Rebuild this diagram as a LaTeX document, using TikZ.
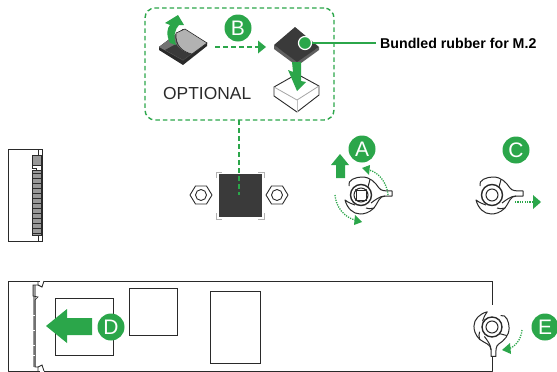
\documentclass[tikz,border=0pt]{standalone}
\usepackage{fontspec}
\setmainfont{Liberation Sans}
\usetikzlibrary{arrows.meta}
\definecolor{gr}{HTML}{2BA64A}
\definecolor{dk}{HTML}{3A3A3A}
\definecolor{ln}{HTML}{2A2A2A}
\tikzset{
  badge/.style={circle,fill=gr,text=white,minimum size=27pt,inner sep=0pt,font=\fontsize{21}{21}\selectfont},
  dash box/.style={draw=gr,line width=1.4pt,dash pattern=on 4.5pt off 3pt,rounded corners=10pt},
  dashline/.style={draw=gr,line width=1.4pt,dash pattern=on 4.5pt off 3.5pt},
  dotline/.style={draw=gr,line width=1.3pt,dash pattern=on 1.2pt off 1.2pt},
  outline/.style={draw=ln,line width=0.9pt},
  heavy/.style={draw=ln,line width=1pt},
  wingnut/.pic={
    \path[heavy,fill=white,line join=round] (-12,-9) .. controls (-14,-15) and (-5,-18) .. (1,-18)
      .. controls (9,-18) and (14,-13) .. (18,-7) .. controls (20,-4) and (24,-4) .. (31,-4)
      -- (31,1) -- (24,1) .. controls (18,1) and (17,8) .. (13,13)
      .. controls (8,18) and (3,19) .. (-1,19) .. controls (-8,19) and (-14,13) .. (-16,5)
      .. controls (-12,8) and (-9,9) .. (-6,10);
    \path[heavy] (9,-15.5) -- (7,-8) (13,13) .. controls (10,14) and (7,14) .. (5,13);
    \path[heavy] (24,1) .. controls (19,1) and (14,5) .. (10,8);
    \path[draw=ln,line width=1.4pt,fill=white] (0,0) circle (10.5);
  }
}
\begin{document}
\begin{tikzpicture}[x=1pt,y=-1pt]
\useasboundingbox (0,0) rectangle (557,372);
% optional box
\node[dash box,minimum width=189pt,minimum height=112pt,inner sep=0pt] (optbox) at (239.5,64) {};
% peeled pad
\fill[ln] (159,47) -- (183,29) -- (207,43) -- (207,46) -- (183,65) -- (159,50) -- cycle;
\fill[dk] (159,47) -- (183,29) -- (207,43) -- (183,61) -- cycle;
\fill[black!55] (159,47) -- (176,34) .. controls (174,44) and (180,50) .. (191,54) -- (183,60) -- cycle;
\fill[dk] (165,50) -- (176,44) .. controls (179,49) and (184,52) .. (191,54) -- (183,60) -- cycle;
\draw[draw=ln,line width=0.6pt,fill=black!30] (176,33) -- (185,29) -- (207,43) -- (192,54)
  .. controls (183,52) and (175,46) .. (176,33);
% green peel arrow
\fill[gr] (170,43) .. controls (166,35) and (167,28) .. (170,25) -- (165,23) -- (178,15) -- (184,25) -- (179,25)
  .. controls (175,29) and (173,36) .. (176,45) -- cycle;
% dark pad
\fill[ln!75] (274,45) -- (274,49) -- (297,66) -- (319,50) -- (319,47) -- (297,61) -- cycle;
\fill[dk] (274,45) -- (295,27) -- (319,47) -- (297,62) -- cycle;
% white block
\draw[outline,fill=white,line join=round] (274,87) -- (297,74) -- (319,86) -- (319,95) -- (297,112) -- (274,96) -- cycle;
\draw[draw=black!35,line width=0.8pt] (274,87) -- (297,100) -- (319,86);
\draw[draw=black!25,line width=0.8pt] (297,100) -- (297,112);
% green down arrow
\fill[gr] (292,62) -- (301,62) -- (301,81) -- (306,82) -- (297,91) -- (288,70) -- (293,72) -- cycle;
% leader
\node[circle,fill=gr,draw=white,line width=1.2pt,minimum size=13pt,inner sep=0pt] (dot) at (305,43) {};
\coordinate (leadEnd) at (376,43);
\draw[draw=gr,line width=1.8pt] (dot) -- (leadEnd);
\node[anchor=west,inner sep=0pt,font=\fontsize{14.2}{14}\selectfont\bfseries] (bund) at (380,43) {Bundled rubber for M.2};
\node[badge] (B) at (238,28) {B};
\node[anchor=west,inner sep=0pt,font=\fontsize{17.4}{17}\selectfont,text=ln] (opt) at (163,93.5) {OPTIONAL};
% B arrow
\coordinate (bs) at (215,47);
\coordinate (be) at (258,47);
\draw[dashline] (bs) -- (be);
\fill[gr] (258,40.5) -- (266,47) -- (258,53.5) -- cycle;
% left slot
\draw[outline] (8,149) rectangle (42,241);
\draw[outline] (38,149) -- (38,155) (38,241) -- (38,235);
\path[fill=black!40,draw=ln,line width=0.6pt] (32,155) -- (41.5,155) -- (41.5,165) -- (32,165) -- cycle;
\path[fill=white,draw=ln,line width=0.6pt] (32,165) -- (41.5,165) -- (41.5,170) -- (36,170) -- (36,168) -- (32,168) -- cycle;
\path[fill=black!40,draw=ln,line width=0.6pt] (32,170) rectangle (41.5,235);
\foreach \yy in {173,178,...,233}{
  \fill[white] (32,\yy) rectangle (41.5,\yy+1.4);
  \draw[draw=ln,line width=0.35pt] (32,\yy) -- (41.5,\yy);
}
% chip
\foreach \sx/\sy in {216/172,264/172,216/219,264/219}{
  \draw[black!30,line width=0.9pt] (\sx,{\sy+(\sy<200?6:-6)}) -- (\sx,\sy) -- ({\sx+(\sx<240?6:-6)},\sy);
}
\node[fill=dk,minimum size=43pt,inner sep=0pt] (chip) at (240,195.5) {};
\foreach \cx in {201,277}{
  \draw[outline,line join=round] (\cx-11,195) -- (\cx-5.5,186) -- (\cx+5.5,186) -- (\cx+11,195) -- (\cx+5.5,204) -- (\cx-5.5,204) -- cycle;
  \draw[outline] (\cx,195) circle (5.5);
}
\coordinate (tapTop) at (239,120);
\coordinate (tapEnd) at (239,195);
\draw[dashline] (tapTop) -- (tapEnd);
% A
\pic at (361,195) {wingnut};
\draw[draw=ln,line width=1pt] (361,195) circle (7);
\draw[draw=ln,line width=0.9pt,fill=white] (356,190) rectangle (366,200);
\foreach \qx/\qy in {356/190,366/190,356/200,366/200}{\fill[ln] (\qx,\qy) circle (1.2);}
\node[badge] (A) at (362,149) {A};
\fill[gr] (340,154) -- (349,165) -- (345,165) -- (345,178) -- (336,178) -- (336,165) -- (331,165) -- cycle;
\draw[dotline] (388,195) .. controls (387,182) and (378,172) .. (369,170);
\fill[gr] (362,168) -- (370,165) -- (369,175) -- cycle;
\draw[dotline] (335,195) .. controls (336,207) and (344,217) .. (355,220);
\fill[gr] (362,222) -- (354,225) -- (355,215) -- cycle;
% C
\pic at (492,195) {wingnut};
\draw[draw=ln,line width=1pt] (492,195) circle (6);
\node[badge] (C) at (516,150) {C};
\draw[dotline] (515,202) -- (534,202);
\fill[gr] (533,195) -- (541,202) -- (533,209) -- cycle;
% M.2 board
\draw[outline,line join=round] (40,281) -- (8,281) -- (8,371) -- (40,371);
\draw[outline,line join=round] (44,281) -- (492,281) -- (492,371) -- (44,371);
\draw[outline] (38,281) -- (38,285) -- (42,287) -- (44,281) (38,371) -- (38,367) -- (42,365) -- (44,371);
\fill[black!40] (33,285) rectangle (36,367);
\draw[draw=ln,line width=0.7pt] (38,285) -- (33,285) -- (33,296) -- (38,297) -- (35,300) -- (35,367) -- (38,367);
\foreach \yy in {315,330,345,355}{\draw[white,line width=0.5pt] (33,\yy) -- (35,\yy);}
\node[draw=ln,line width=0.9pt,minimum width=58pt,minimum height=57pt,inner sep=0pt] (r1) at (84,326.5) {};
\node[draw=ln,line width=0.9pt,minimum width=48pt,minimum height=47pt,inner sep=0pt] (r2) at (153,311.5) {};
\node[draw=ln,line width=0.9pt,minimum width=50pt,minimum height=72pt,inner sep=0pt] (r3) at (235,327) {};
% D
\fill[gr] (46,326) -- (67,309) -- (67,318) -- (92,318) -- (92,335) -- (67,335) -- (67,343) -- cycle;
\node[badge] (D) at (111,327) {D};
% E
\fill[white] (476,300) rectangle (510,358);
\draw[outline] (492,281) -- (492,305) (492,350) -- (492,371);
\pic[rotate=-90,scale=0.95] at (492,327) {wingnut};
\draw[draw=ln,line width=1pt] (492,327) circle (6);
\node[badge] (E) at (545,327) {E};
\draw[dotline] (522,330) .. controls (521,340) and (515,347) .. (508,349);
\fill[gr] (502,350) -- (510,343) -- (511,354) -- cycle;
\end{tikzpicture}
\end{document}
